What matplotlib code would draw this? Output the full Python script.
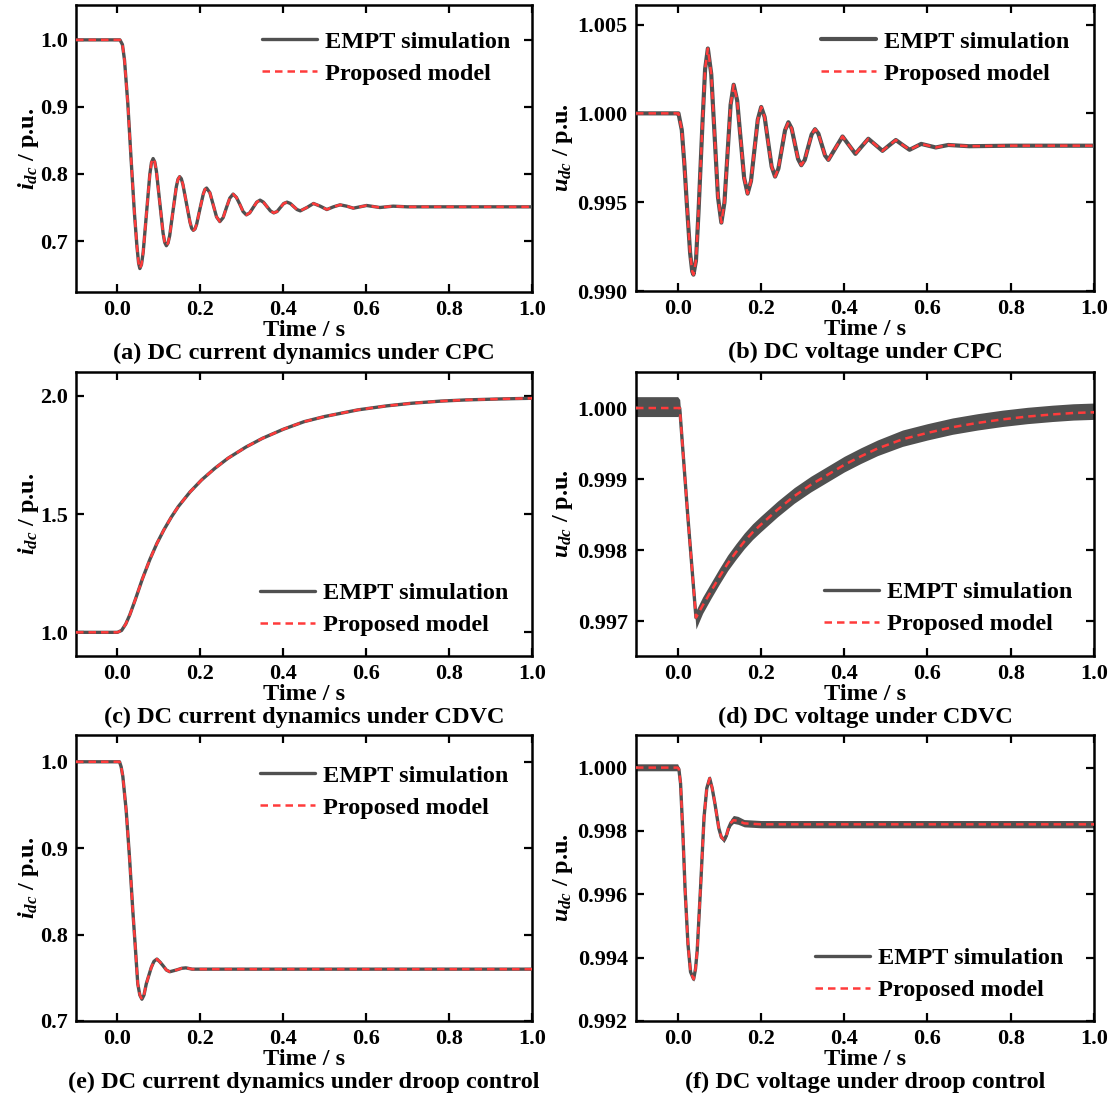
import matplotlib
matplotlib.use("Agg")
import matplotlib.pyplot as plt
from matplotlib.ticker import FixedLocator, FormatStrFormatter

plt.rcParams['font.family'] = ['Liberation Serif', 'DejaVu Serif']
plt.rcParams['font.weight'] = 'bold'
plt.rcParams['mathtext.fontset'] = 'custom'
plt.rcParams['mathtext.it'] = 'Liberation Serif:italic:bold'
plt.rcParams['mathtext.rm'] = 'Liberation Serif:bold'
plt.rcParams['mathtext.bf'] = 'Liberation Serif:bold'

# ---------------- data ----------------
x_ticks = [0.0, 0.2, 0.4, 0.6, 0.8, 1.0]

# (a) DC current under CPC
a_t = [-0.10, 0.000, 0.006, 0.012, 0.017, 0.025, 0.033, 0.041, 0.047, 0.051, 0.054,
       0.058, 0.062, 0.070, 0.078, 0.082, 0.086, 0.090, 0.094, 0.102, 0.110, 0.114,
       0.118, 0.122, 0.126, 0.134, 0.142, 0.146, 0.150, 0.154, 0.158, 0.1665, 0.175,
       0.179, 0.183, 0.187, 0.191, 0.199, 0.207, 0.211, 0.215, 0.223, 0.231, 0.239,
       0.247, 0.255, 0.263, 0.271, 0.279, 0.287, 0.295, 0.303, 0.311, 0.319, 0.3275,
       0.336, 0.344, 0.352, 0.3605, 0.369, 0.377, 0.385, 0.393, 0.401, 0.409, 0.417,
       0.425, 0.433, 0.441, 0.457, 0.473, 0.489, 0.505, 0.521, 0.537, 0.553, 0.569,
       0.601, 0.633, 0.665, 0.70, 0.80, 0.90, 1.00]
a_v = [1.000, 1.000, 1.000, 0.993, 0.970, 0.905, 0.821, 0.741, 0.692, 0.667, 0.659,
       0.665, 0.683, 0.741, 0.799, 0.817, 0.823, 0.818, 0.804, 0.758, 0.712, 0.698,
       0.693, 0.697, 0.708, 0.745, 0.781, 0.792, 0.796, 0.793, 0.784, 0.756, 0.728,
       0.719, 0.716, 0.718, 0.725, 0.748, 0.770, 0.777, 0.779, 0.772, 0.754, 0.736,
       0.729, 0.735, 0.750, 0.764, 0.770, 0.765, 0.755, 0.744, 0.739, 0.742, 0.750,
       0.758, 0.761, 0.758, 0.7515, 0.745, 0.742, 0.744, 0.750, 0.756, 0.758, 0.756,
       0.7515, 0.747, 0.745, 0.750, 0.756, 0.752, 0.747, 0.751, 0.754, 0.752, 0.749,
       0.753, 0.750, 0.752, 0.751, 0.751, 0.751, 0.751]
a_yticks = [0.7, 0.8, 0.9, 1.0]

# (b) DC voltage under CPC
b_t = [-0.10, 0.000, 0.002, 0.010, 0.016, 0.022, 0.030, 0.035, 0.038, 0.044, 0.050,
       0.055, 0.060, 0.066, 0.0726, 0.0807, 0.0888, 0.0969, 0.105, 0.1124, 0.1198,
       0.1272, 0.1346, 0.143, 0.1513, 0.1597, 0.168, 0.1762, 0.1843, 0.1925, 0.2007,
       0.209, 0.2173, 0.2257, 0.234, 0.242, 0.250, 0.258, 0.266, 0.2738, 0.2815,
       0.2893, 0.297, 0.3053, 0.3135, 0.3218, 0.330, 0.338, 0.346, 0.354, 0.362,
       0.379, 0.396, 0.4115, 0.427, 0.4425, 0.458, 0.475, 0.492, 0.508, 0.524,
       0.5405, 0.557, 0.585, 0.62, 0.65, 0.70, 0.80, 0.90, 1.00]
b_v = [1.00000, 1.00000, 1.00000, 0.99906, 0.99720, 0.99494, 0.99213, 0.99110, 0.99092,
       0.99170, 0.99438, 0.99700, 0.99963, 1.00250, 1.00365, 1.00222, 0.99875, 0.99528,
       0.99385, 0.99498, 0.99773, 1.00048, 1.00161, 1.00072, 0.99855, 0.99637, 0.99548,
       0.99619, 0.99792, 0.99965, 1.00036, 0.99979, 0.99840, 0.99701, 0.99644, 0.99689,
       0.99797, 0.99905, 0.99950, 0.99915, 0.99829, 0.99743, 0.99708, 0.99738, 0.99810,
       0.99881, 0.99911, 0.99886, 0.99825, 0.99763, 0.99738, 0.99804, 0.99870, 0.99821,
       0.99772, 0.99815, 0.99857, 0.99823, 0.99789, 0.99820, 0.99850, 0.99822, 0.99795,
       0.99828, 0.99808, 0.99822, 0.99815, 0.99818, 0.99818, 0.99818]
b_yticks = [0.990, 0.995, 1.000, 1.005]

# (c) DC current under CDVC
c_t = [-0.10, 0.000, 0.010, 0.020, 0.030, 0.043, 0.060, 0.078, 0.095, 0.112, 0.130,
       0.147, 0.175, 0.203, 0.235, 0.267, 0.310, 0.350, 0.400, 0.450, 0.500, 0.580,
       0.650, 0.710, 0.780, 0.840, 0.920, 1.000]
c_v = [1.000, 1.000, 1.008, 1.035, 1.075, 1.138, 1.225, 1.307, 1.375, 1.433, 1.487,
       1.532, 1.593, 1.644, 1.693, 1.736, 1.783, 1.820, 1.858, 1.890, 1.912, 1.940,
       1.957, 1.968, 1.977, 1.982, 1.986, 1.989]
c_yticks = [1.0, 1.5, 2.0]

# (d) DC voltage under CDVC (EMPT ripple band given as upper / lower offsets)
d_t = [-0.10, 0.000, 0.005, 0.024, 0.044, 0.060, 0.080, 0.100, 0.120, 0.140, 0.160,
       0.180, 0.200, 0.240, 0.280, 0.320, 0.360, 0.400, 0.440, 0.480, 0.540, 0.600,
       0.660, 0.720, 0.780, 0.840, 0.900, 0.950, 1.000]
d_v = [1.00000, 1.00000, 1.00000, 0.99851, 0.99705, 0.99722, 0.99742, 0.99762, 0.99781,
       0.99797, 0.99812, 0.99825, 0.99836, 0.99857, 0.99876, 0.99892, 0.99906, 0.99920,
       0.99932, 0.99943, 0.99956, 0.99965, 0.99973, 0.99979, 0.99984, 0.99988, 0.99991,
       0.99993, 0.99994]
d_band_up = [0.00016, 0.00016, 0.00012, 0.00006, 0.00010, 0.00012, 0.00012, 0.00012,
             0.00012, 0.00012, 0.00012, 0.00012, 0.00012, 0.00012, 0.00012, 0.00012,
             0.00012, 0.00012, 0.00012, 0.00012, 0.00013, 0.00013, 0.00013, 0.00013,
             0.00013, 0.00013, 0.00013, 0.00013, 0.00013]
d_band_dn = [0.00012, 0.00012, 0.00010, 0.00006, 0.00016, 0.00011, 0.00010, 0.00010,
             0.00010, 0.00010, 0.00010, 0.00010, 0.00010, 0.00010, 0.00010, 0.00010,
             0.00010, 0.00010, 0.00010, 0.00010, 0.00010, 0.00010, 0.00010, 0.00010,
             0.00010, 0.00010, 0.00010, 0.00010, 0.00010]
d_yticks = [0.997, 0.998, 0.999, 1.000]

# (e) DC current under droop control
e_t = [-0.10, 0.000, 0.005, 0.009, 0.013, 0.021, 0.029, 0.037, 0.0437, 0.049, 0.054,
       0.059, 0.064, 0.0695, 0.0816, 0.088, 0.0952, 0.103, 0.110, 0.118, 0.126, 0.134,
       0.142, 0.155, 0.165, 0.180, 0.40, 0.60, 0.80, 1.00]
e_v = [1.000, 1.000, 1.000, 0.994, 0.983, 0.944, 0.890, 0.828, 0.781, 0.743, 0.730,
       0.7252, 0.730, 0.743, 0.762, 0.769, 0.7717, 0.768, 0.764, 0.759, 0.757, 0.758,
       0.759, 0.761, 0.7615, 0.760, 0.760, 0.760, 0.760, 0.760]
e_yticks = [0.7, 0.8, 0.9, 1.0]

# (f) DC voltage under droop control (EMPT ripple band as offsets)
f_t = [-0.10, 0.000, 0.003, 0.007, 0.0126, 0.018, 0.0248, 0.031, 0.0384, 0.043, 0.047,
       0.0555, 0.0635, 0.070, 0.077, 0.083, 0.0895, 0.099, 0.105, 0.111, 0.117, 0.122,
       0.128, 0.134, 0.145, 0.160, 0.20, 0.40, 0.60, 0.80, 1.00]
f_v = [1.00000, 1.00000, 0.99995, 0.99950, 0.99792, 0.99612, 0.99443, 0.99355, 0.99332,
       0.99365, 0.99422, 0.99633, 0.99845, 0.99935, 0.99966, 0.99935, 0.99887, 0.99808,
       0.99780, 0.99773, 0.99785, 0.99808, 0.99826, 0.99834, 0.99832, 0.99824, 0.99821,
       0.99821, 0.99821, 0.99821, 0.99821]
f_band_up = [0.00012, 0.00012, 0.00008, 0.00005, 0.00005, 0.00005, 0.00005, 0.00005,
             0.00005, 0.00005, 0.00005, 0.00005, 0.00005, 0.00007, 0.00009, 0.00007,
             0.00005, 0.00005, 0.00006, 0.00007, 0.00008, 0.00010, 0.00013, 0.00015,
             0.00014, 0.00012, 0.00012, 0.00012, 0.00012, 0.00012, 0.00012]
f_band_dn = [0.00010, 0.00010, 0.00007, 0.00005, 0.00005, 0.00005, 0.00005, 0.00005,
             0.00007, 0.00005, 0.00005, 0.00005, 0.00005, 0.00005, 0.00005, 0.00005,
             0.00005, 0.00005, 0.00006, 0.00010, 0.00008, 0.00008, 0.00010, 0.00010,
             0.00011, 0.00011, 0.00011, 0.00011, 0.00011, 0.00011, 0.00011]
f_yticks = [0.992, 0.994, 0.996, 0.998, 1.000]

captions = ["(a) DC current dynamics under CPC", "(b) DC voltage under CPC",
            "(c) DC current dynamics under CDVC", "(d) DC voltage under CDVC",
            "(e) DC current dynamics under droop control", "(f) DC voltage under droop control"]
legend_labels = ["EMPT simulation", "Proposed model"]

# ---------------- figure ----------------
W, H = 1110, 1097
fig = plt.figure(figsize=(W / 100, H / 100), dpi=100)

GREY = '#505050'
RED = '#ff3b3b'
FS_TICK = 16
FS_LAB = 17.5


def px_axes(l, t, r, b):
    return fig.add_axes([l / W, 1 - b / H, (r - l) / W, (b - t) / H])


axes = [
    px_axes(76, 5, 532, 292), px_axes(636, 5, 1094, 291),
    px_axes(76, 372, 532, 656), px_axes(636, 372, 1094, 656),
    px_axes(76, 735, 532, 1021), px_axes(636, 735, 1094, 1021),
]

# legend anchor offsets in pixels (dx, dy) relative to default corner
leg_shift = [(0, -4), (-3, -4), (-2, -2), (0, -1), (-2, -8), (-9, -2)]

specs = [
    (a_t, a_v, None, None, a_yticks, (0.624, 1.052), '%.1f', r'$i_{dc}$ / p.u.', 'upper right', -0.105, 2.4),
    (b_t, b_v, None, None, b_yticks, (0.990, 1.0061), '%.3f', r'$u_{dc}$ / p.u.', 'upper right', -0.159, 3.0),
    (c_t, c_v, None, None, c_yticks, (0.9, 2.1), '%.1f', r'$i_{dc}$ / p.u.', 'lower right', -0.105, 2.4),
    (d_t, d_v, d_band_up, d_band_dn, d_yticks, (0.99651, 1.000507), '%.3f', r'$u_{dc}$ / p.u.', 'lower right', -0.159, 2.4),
    (e_t, e_v, None, None, e_yticks, (0.7, 1.031), '%.1f', r'$i_{dc}$ / p.u.', 'upper right', -0.105, 2.4),
    (f_t, f_v, f_band_up, f_band_dn, f_yticks, (0.992, 1.00103), '%.3f', r'$u_{dc}$ / p.u.', 'lower right', -0.159, 2.4),
]

for ax, spec, cap, sh in zip(axes, specs, captions, leg_shift):
    t, v, up, dn, yt, ylim, fmt, ylab, loc, ylx, lw_e = spec
    if up is not None:
        lo = [vi - di for vi, di in zip(v, dn)]
        hi = [vi + ui for vi, ui in zip(v, up)]
        ax.fill_between(t, lo, hi, color=GREY, linewidth=0, zorder=2)
    l1, = ax.plot(t, v, color=GREY, lw=lw_e, solid_capstyle='round', zorder=3)
    l2, = ax.plot(t, v, color=RED, lw=1.8, linestyle=(0, (3, 2)), zorder=4)
    ax.set_xlim(-0.1, 1.0)
    ax.set_ylim(*ylim)
    ax.xaxis.set_major_locator(FixedLocator(x_ticks))
    ax.xaxis.set_major_formatter(FormatStrFormatter('%.1f'))
    ax.yaxis.set_major_locator(FixedLocator(yt))
    ax.yaxis.set_major_formatter(FormatStrFormatter(fmt))
    ax.tick_params(direction='in', top=True, right=True, length=5.5, width=1.6,
                   labelsize=FS_TICK, pad=6)
    for s in ax.spines.values():
        s.set_linewidth(1.8)
    ax.set_xlabel('Time / s', fontsize=FS_LAB, fontweight='bold', labelpad=0)
    ax.set_ylabel(ylab, fontsize=FS_LAB, fontweight='bold', va='center')
    ax.yaxis.set_label_coords(ylx, 0.5)
    ax.annotate(cap, xy=(0.5, 0), xycoords='axes fraction', xytext=(0, -44),
                textcoords='offset points', ha='center', va='center',
                fontsize=FS_LAB, fontweight='bold')
    bb = ax.get_position()
    axw, axh = bb.width * W, bb.height * H
    if loc == 'upper right':
        anchor = (1 + sh[0] / axw, 1 + sh[1] / axh)
    else:
        anchor = (1 + sh[0] / axw, 0 + sh[1] / axh)
    ax.legend([l1, l2], legend_labels, loc=loc, bbox_to_anchor=anchor, frameon=False,
              fontsize=FS_LAB, handlelength=2.3, handletextpad=0.3, labelspacing=0.4)

fig.savefig('out.png', dpi=100)
